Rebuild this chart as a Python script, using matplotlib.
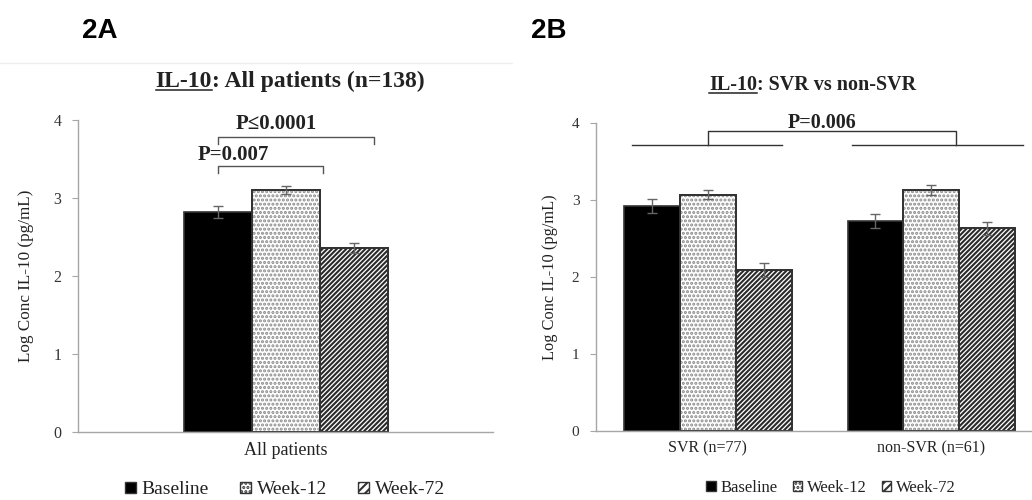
import matplotlib
matplotlib.use("Agg")
import matplotlib.pyplot as plt
from matplotlib.patches import Patch
from matplotlib.lines import Line2D
import numpy as np

plt.rcParams['font.family'] = ['Liberation Serif', 'DejaVu Serif']
plt.rcParams['hatch.linewidth'] = 1.5

series = ["Baseline", "Week-12", "Week-72"]
faces = ["black", "white", "white"]
hatches = [None, "....", "///////"]
hatch_colors = ["black", "#8a8a8a", "#2a2a2a"]

# Panel A
catA = ["All patients"]
valsA = {"Baseline": [2.82], "Week-12": [3.10], "Week-72": [2.36]}
errA = {"Baseline": [0.08], "Week-12": [0.05], "Week-72": [0.06]}

# Panel B
catB = ["SVR (n=77)", "non-SVR (n=61)"]
valsB = {"Baseline": [2.92, 2.73], "Week-12": [3.07, 3.13], "Week-72": [2.09, 2.63]}
errB = {"Baseline": [0.09, 0.09], "Week-12": [0.06, 0.07], "Week-72": [0.09, 0.09]}

yticks = [0, 1, 2, 3, 4]
ylabel = "Log Conc IL-10 (pg/mL)"

fig = plt.figure(figsize=(10.32, 5.0), dpi=100)

axA = fig.add_axes([78/1032, 1-432/500, (493-78)/1032, (432-120)/500])
axB = fig.add_axes([596/1032, 1-431/500, (1032-596)/1032, (431-123)/500])

spine_c = "#a6a6a6"
txt_c = "#222222"

def style(ax, tick_fs, xtick_fs, ylab_fs):
    ax.set_ylim(0, 4)
    ax.set_yticks(yticks)
    ax.set_yticklabels([str(t) for t in yticks], fontsize=tick_fs, color="#333333")
    for s in ["top", "right"]:
        ax.spines[s].set_visible(False)
    for s in ["left", "bottom"]:
        ax.spines[s].set_color(spine_c)
        ax.spines[s].set_linewidth(1.0)
    ax.tick_params(axis='y', length=4, color=spine_c, pad=8)
    ax.tick_params(axis='x', length=0, pad=7, labelsize=xtick_fs)
    ax.set_ylabel(ylabel, fontsize=ylab_fs, color=txt_c)

def draw(ax, cats, vals, errs, width):
    x = np.arange(len(cats))
    for i, s in enumerate(series):
        pos = x + (i - 1) * width
        ax.bar(pos, vals[s], width=width, color=faces[i], edgecolor="#333333",
               linewidth=1.2, zorder=2)
        if hatches[i]:
            ax.bar(pos, vals[s], width=width, color="none", edgecolor=hatch_colors[i],
                   linewidth=0, hatch=hatches[i], zorder=2.1)
            ax.bar(pos, vals[s], width=width, color="none", edgecolor="#333333",
                   linewidth=1.4, zorder=2.2)
        ax.errorbar(pos, vals[s], yerr=errs[s], fmt='none', ecolor="#666666",
                    elinewidth=1.0, capsize=3.5, capthick=1.0, zorder=3)
    ax.set_xticks(x)
    ax.set_xticklabels(cats, color=txt_c)

# Panel A
wA = 68/415
draw(axA, catA, valsA, errA, wA)
axA.set_xlim(-0.5, 0.5)
style(axA, 11.5, 13, 12.3)
axA.yaxis.labelpad = 14

# Panel B
wB = 0.25
draw(axB, catB, valsB, errB, wB)
axB.set_xlim(-0.5, 1.45)
style(axB, 11, 11.5, 11.8)
axB.yaxis.labelpad = 10

# Brackets A
kw = dict(color="#555555", lw=1.0, clip_on=False)
axA.plot([-wA, -wA, 0.55*wA, 0.55*wA], [3.32, 3.41, 3.41, 3.32], **kw)
axA.text(-0.125, 3.55, "P=0.007", ha="center", va="center",
         fontsize=15, fontweight="bold", color=txt_c, clip_on=False)
axA.plot([-wA, -wA, 1.3*wA, 1.3*wA], [3.69, 3.78, 3.78, 3.69], **kw)
axA.text(-0.023, 3.95, "P≤0.0001", ha="center", va="center",
         fontsize=15, fontweight="bold", color=txt_c, clip_on=False)

# Brackets B
kwb = dict(color="#333333", lw=1.0, clip_on=False)
axB.plot([-0.34, 0.33], [3.71, 3.71], **kwb)
axB.plot([0.646, 1.41], [3.71, 3.71], **kwb)
axB.plot([0.0, 0.0, 1.11, 1.11], [3.71, 3.90, 3.90, 3.71], **kwb)
axB.text(0.51, 4.0, "P=0.006", ha="center", va="center",
         fontsize=14.5, fontweight="bold", color=txt_c, clip_on=False)

def place_title(xc, ybase, rest, fs):
    r = fig.canvas.get_renderer()
    full = fig.text(0, 0, "IL-10" + rest, fontsize=fs, fontweight="bold")
    w = full.get_window_extent(r).width
    full.remove()
    x0 = (xc - w/2) / 1032
    t1 = fig.text(x0, 1 - ybase/500, "IL-10", fontsize=fs, fontweight="bold",
                  ha="left", va="baseline", color=txt_c)
    bb = t1.get_window_extent(r)
    fig.text(bb.x1/1032, 1 - ybase/500, rest, fontsize=fs, fontweight="bold",
             ha="left", va="baseline", color=txt_c)
    fig.add_artist(Line2D([bb.x0/1032, bb.x1/1032], [1-(ybase+3)/500]*2,
                          color=txt_c, lw=1.1))

place_title(290, 87, ": All patients (n=138)", 17)
place_title(813, 90, ": SVR vs non-SVR", 14.5)

# Panel labels
fig.text(82/1032, 1-38/500, "2A", fontsize=20, fontweight="bold",
         family="Liberation Sans", ha="left", va="baseline")
fig.text(531/1032, 1-38/500, "2B", fontsize=20, fontweight="bold",
         family="Liberation Sans", ha="left", va="baseline")

# faint frame line at top of panel A
fig.add_artist(Line2D([0, 512/1032], [1-63/500]*2, color="#eeeeee", lw=1.0))

# Legends
def handles():
    hs = []
    for i, s in enumerate(series):
        hs.append(Patch(facecolor=faces[i], edgecolor="#333333",
                        hatch=("...." if i == 1 else ("////" if i == 2 else None)), label=s))
    return hs

fig.legend(handles=handles(), loc="center", bbox_to_anchor=(285/1032, 1-490/500),
           ncol=3, frameon=False, fontsize=14, handlelength=0.55, handleheight=0.55,
           handletextpad=0.3, columnspacing=1.6, labelcolor=txt_c)
fig.legend(handles=handles(), loc="center", bbox_to_anchor=(831/1032, 1-488/500),
           ncol=3, frameon=False, fontsize=12, handlelength=0.55, handleheight=0.55,
           handletextpad=0.3, columnspacing=0.9, labelcolor=txt_c)

fig.savefig("out.png", dpi=100)
